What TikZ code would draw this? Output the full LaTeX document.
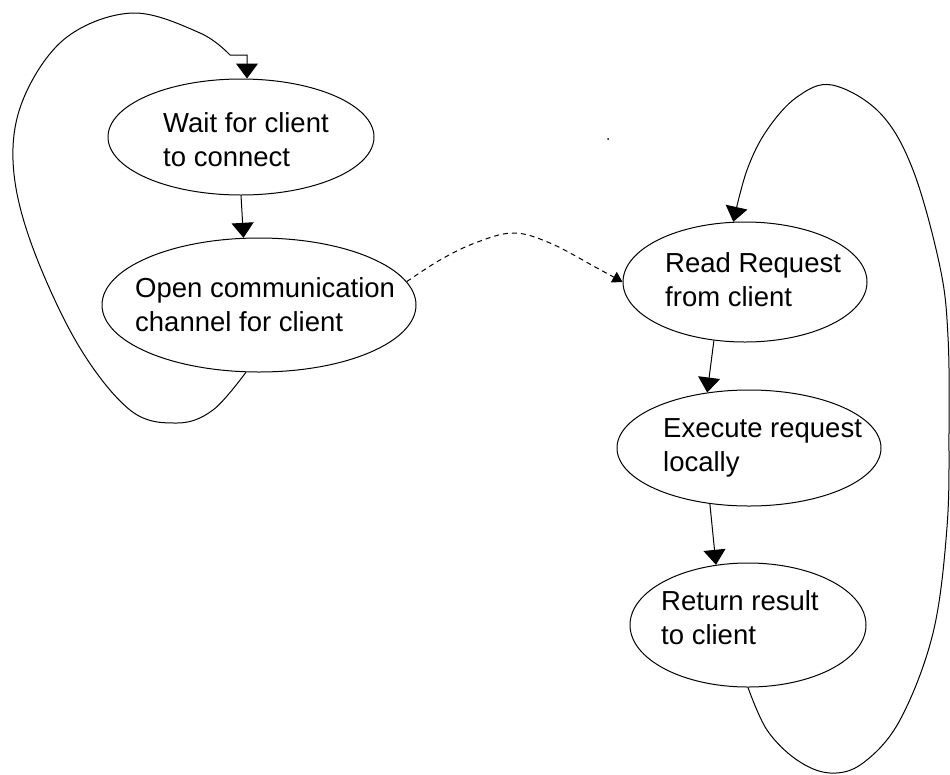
\documentclass[tikz,border=0pt]{standalone}
\usepackage{fontspec}
\setmainfont{Liberation Sans}
\usetikzlibrary{arrows.meta,shapes.geometric}
\begin{document}
\begin{tikzpicture}[x=1pt,y=-1pt,
  state/.style={draw,ellipse,line width=1pt,inner sep=0pt},
  lbl/.style={anchor=base west,inner sep=0pt,font=\fontsize{27.5}{34}\selectfont},
  flow/.style={line width=1pt,-{Triangle[width=22pt,length=15pt]}},
  loopline/.style={line width=1pt},
  link/.style={line width=1pt,dash pattern=on 5pt off 4pt,-{Triangle[width=12pt,length=10pt]}}]
\useasboundingbox (0,0) rectangle (950,774);
% states
\node[state,minimum width=266pt,minimum height=116pt] (e1) at (241,137) {};
\node[state,minimum width=314pt,minimum height=134pt] (e2) at (259,305) {};
\node[state,minimum width=244pt,minimum height=120pt] (e3) at (745,282) {};
\node[state,minimum width=264pt,minimum height=116pt] (e4) at (749,448) {};
\node[state,minimum width=236pt,minimum height=124pt] (e5) at (748,625) {};
% labels
\node[lbl] (t1) at (163,132) {\begin{tabular}[t]{@{}l@{}}Wait for client\\to connect\end{tabular}};
\node[lbl] (t2) at (135,297) {\begin{tabular}[t]{@{}l@{}}Open communication\\channel for client\end{tabular}};
\node[lbl] (t3) at (665,272) {\begin{tabular}[t]{@{}l@{}}Read Request\\from client\end{tabular}};
\node[lbl] (t4) at (663,437) {\begin{tabular}[t]{@{}l@{}}Execute request\\locally\end{tabular}};
\node[lbl] (t5) at (661,610) {\begin{tabular}[t]{@{}l@{}}Return result\\to client\end{tabular}};
% straight flows
\draw[flow] (e1.south) -- (e2.103.4);
\draw[flow] (e3.-118) -- (e4.127);
\draw[flow] (e4.-125) -- (e5.118);
% dashed link
\draw[link] plot[smooth,tension=0.6] coordinates {(e2.9) (440,260) (475,243) (513,233) (550,243) (597,268) (e3.west)};
% left loop
\coordinate (c1) at (247,55);
\draw[flow] plot[smooth,tension=0.6] coordinates {(e2.-101) (213,410) (177,423) (130,410) (77,343) (30,240) (13,160) (25,95) (67,37) (133,13) (200,33) (230,55)} -- (c1) -- (c1 |- e1.north);
% right loop
\draw[flow] plot[smooth,tension=0.6] coordinates {(e5.south) (767,730) (797,760) (830,773) (863,763) (900,720) (933,633) (947,527) (949,430) (948,337) (940,267) (913,170) (880,113) (832,85) (797,97) (767,130) (747,170) (e3.101)};
% stray dot
\fill (608,139) circle (1pt);
\end{tikzpicture}
\end{document}
